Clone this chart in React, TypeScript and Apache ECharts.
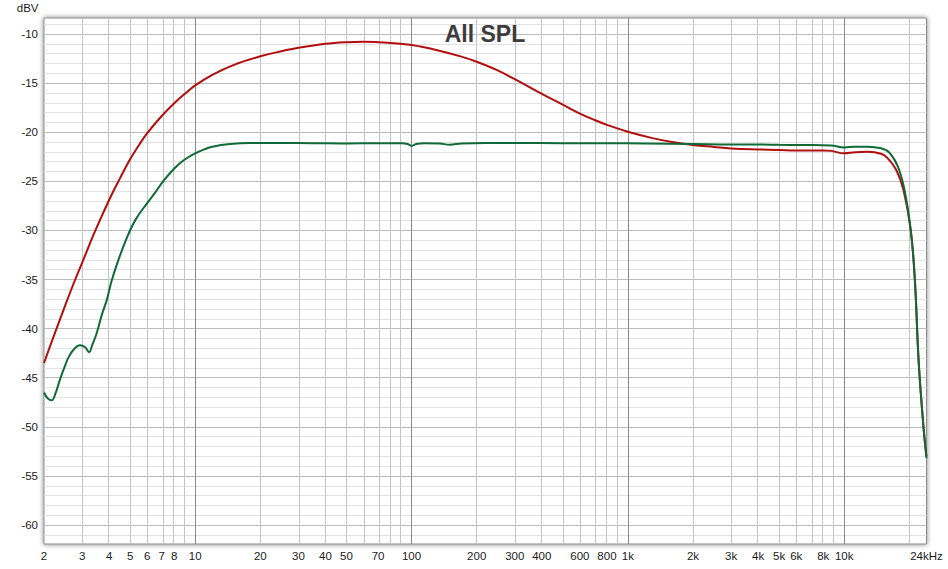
import React, { useEffect, useRef } from "react";
import * as echarts from "echarts";

// ---- Data (frequency in Hz, level in dBV) ----
const redFreq = [2, 2.25, 2.5, 2.77, 3, 3.44, 4, 4.5, 5, 5.5, 6, 7, 8, 9, 10, 12, 15, 20, 25, 30, 40, 50, 60, 70, 80, 100, 130, 170, 200, 250, 300, 400, 500, 600, 700, 800, 1000, 1300, 1600, 2000, 2500, 3000, 4000, 5000, 6000, 8000, 8700, 10000, 11200, 12800, 14800, 15900, 17400, 18800, 20300, 21200, 22100, 23300, 24000];
const redDb = [-43.5, -40.4, -37.7, -35.15, -33.3, -30.1, -26.9, -24.65, -22.75, -21.3, -20.1, -18.35, -17.05, -16.05, -15.23, -14.16, -13.17, -12.27, -11.76, -11.41, -11.0, -10.83, -10.78, -10.83, -10.92, -11.12, -11.62, -12.3, -12.82, -13.7, -14.6, -16.1, -17.2, -18.1, -18.75, -19.25, -19.95, -20.6, -21.0, -21.3, -21.5, -21.65, -21.75, -21.8, -21.85, -21.85, -21.9, -22.15, -22.05, -22.0, -22.2, -22.66, -23.85, -25.9, -30, -35, -43.5, -50.3, -53.0];

const greenFreq = [2, 2.08, 2.17, 2.26, 2.37, 2.5, 2.6, 2.75, 2.93, 3.1, 3.23, 3.35, 3.5, 3.7, 3.9, 4.1, 4.4, 4.84, 5.3, 5.96, 6.5, 7.16, 8, 8.5, 9.2, 10, 11, 12, 14.5, 18, 25, 35, 50, 70, 90, 96, 100, 105, 115, 135, 150, 170, 220, 300, 500, 800, 1200, 2000, 3000, 4000, 5000, 6500, 8700, 10000, 11200, 12800, 14800, 16200, 17700, 19000, 20300, 21200, 22100, 23300, 24000];
const greenDb = [-46.5, -47.1, -47.3, -46.6, -45.2, -43.8, -42.9, -42.1, -41.7, -41.9, -42.4, -41.6, -40.5, -38.6, -37.1, -35.2, -33.1, -30.7, -28.9, -27.3, -26.2, -24.9, -23.7, -23.15, -22.6, -22.15, -21.75, -21.47, -21.2, -21.1, -21.1, -21.12, -21.15, -21.12, -21.12, -21.2, -21.4, -21.2, -21.12, -21.15, -21.27, -21.15, -21.1, -21.1, -21.12, -21.12, -21.15, -21.2, -21.25, -21.25, -21.28, -21.3, -21.35, -21.55, -21.47, -21.47, -21.64, -22.1, -23.5, -25.9, -30, -35, -43.5, -50.3, -53.2];

// ---- Axis ticks / labels ----
const xTickFreqs = [2, 3, 4, 5, 6, 7, 8, 10, 20, 30, 40, 50, 70, 100, 200, 300, 400, 600, 800, 1000, 2000, 3000, 4000, 5000, 6000, 8000, 10000, 24000];
const xTickTexts = ["2", "3", "4", "5", "6", "7", "8", "10", "20", "30", "40", "50", "70", "100", "200", "300", "400", "600", "800", "1k", "2k", "3k", "4k", "5k", "6k", "8k", "10k", "24kHz"];
const yTicks = [-60, -55, -50, -45, -40, -35, -30, -25, -20, -15, -10];

const X_MIN = 2;
const X_MAX = 24000;
const Y_MIN = -61.93;
const Y_MAX = -8.37;

const decades = [1, 10, 100, 1000];
const multipliers = [2, 3, 4, 5, 6, 7, 8, 9];
const xMajorGrid = [10, 100, 1000, 10000];
const xMinorGrid = decades.flatMap((d) => multipliers.map((m) => m * d)).concat([20000]);
const yMajorGrid = yTicks;
const yMinorGrid: number[] = [];
for (let v = -61; v <= -9; v++) if (v % 5 !== 0) yMinorGrid.push(v);

const lg = (f: number) => Math.log10(f);

export default function App() {
  const ref = useRef<HTMLDivElement>(null);

  useEffect(() => {
    if (!ref.current) return;
    const chart = echarts.init(ref.current, undefined, { renderer: "svg" });

    const labelFont = "Liberation Sans, Arial, sans-serif";

    const gridMarkData: any[] = [];
    yMinorGrid.forEach((v) =>
      gridMarkData.push({ yAxis: v, lineStyle: { color: "#e2e2e2", width: 1, type: "solid" } })
    );
    yMajorGrid.forEach((v) =>
      gridMarkData.push({ yAxis: v, lineStyle: { color: "#bcbcbc", width: 1, type: "solid" } })
    );
    xMinorGrid.forEach((f) =>
      gridMarkData.push({ xAxis: lg(f), lineStyle: { color: "#c4c4c4", width: 1, type: "solid" } })
    );
    xMajorGrid.forEach((f) =>
      gridMarkData.push({ xAxis: lg(f), lineStyle: { color: "#888888", width: 1, type: "solid" } })
    );

    const option: any = {
      animation: false,
      backgroundColor: "#ffffff",
      grid: {
        left: 44,
        top: 18,
        right: 21.5,
        bottom: 25,
        show: true,
        backgroundColor: "#ffffff",
        borderColor: "#8a8a8a",
        borderWidth: 1,
        shadowBlur: 5,
        shadowColor: "rgba(0,0,0,0.5)",
        shadowOffsetX: 0,
        shadowOffsetY: 0,
      },
      xAxis: {
        type: "value",
        min: lg(X_MIN),
        max: lg(X_MAX),
        axisLine: { show: false },
        axisTick: { show: false },
        splitLine: { show: false },
        axisLabel: {
          customValues: xTickFreqs.map(lg),
          margin: 6,
          fontFamily: labelFont,
          fontSize: 11.5,
          color: "#1a1a1a",
          formatter: (v: number) => {
            const f = Math.pow(10, v);
            const i = xTickFreqs.findIndex((t) => Math.abs(t - f) / t < 1e-6);
            return i >= 0 ? xTickTexts[i] : "";
          },
        },
      },
      yAxis: {
        type: "value",
        min: Y_MIN,
        max: Y_MAX,
        axisLine: { show: false },
        axisTick: { show: false },
        splitLine: { show: false },
        axisLabel: {
          customValues: yTicks,
          margin: 6,
          fontFamily: labelFont,
          fontSize: 11.5,
          color: "#1a1a1a",
          formatter: (v: number) => String(Math.round(v)),
        },
      },
      graphic: [
        {
          type: "text",
          z: 100,
          x: 485,
          y: 33.5,
          style: {
            text: "All SPL",
            fill: "#3c3c3c",
            font: "bold 23px Liberation Sans, Arial, sans-serif",
            textAlign: "center",
            textVerticalAlign: "middle",
          },
        },
        {
          type: "text",
          z: 100,
          x: 38.5,
          y: 8.3,
          style: {
            text: "dBV",
            fill: "#1a1a1a",
            font: "11.5px Liberation Sans, Arial, sans-serif",
            textAlign: "right",
            textVerticalAlign: "middle",
          },
        },
      ],
      series: [
        {
          name: "grid",
          type: "line",
          z: 1,
          data: [],
          silent: true,
          markLine: {
            silent: true,
            symbol: ["none", "none"],
            label: { show: false },
            emphasis: { disabled: true },
            animation: false,
            data: gridMarkData,
          },
        },
        {
          name: "Red",
          type: "line",
          z: 10,
          smooth: 0.4,
          showSymbol: false,
          silent: true,
          lineStyle: { color: "#b20e0e", width: 2 },
          data: redFreq.map((f, i) => [lg(f), redDb[i]]),
        },
        {
          name: "Green",
          type: "line",
          z: 11,
          smooth: 0.4,
          showSymbol: false,
          silent: true,
          lineStyle: { color: "#0f6a38", width: 2 },
          data: greenFreq.map((f, i) => [lg(f), greenDb[i]]),
        },
      ],
    };

    chart.setOption(option);
    return () => {
      chart.dispose();
    };
  }, []);

  return (
    <div
      ref={ref}
      style={{ position: "absolute", left: 0, top: 0, width: 948, height: 569 }}
    />
  );
}
